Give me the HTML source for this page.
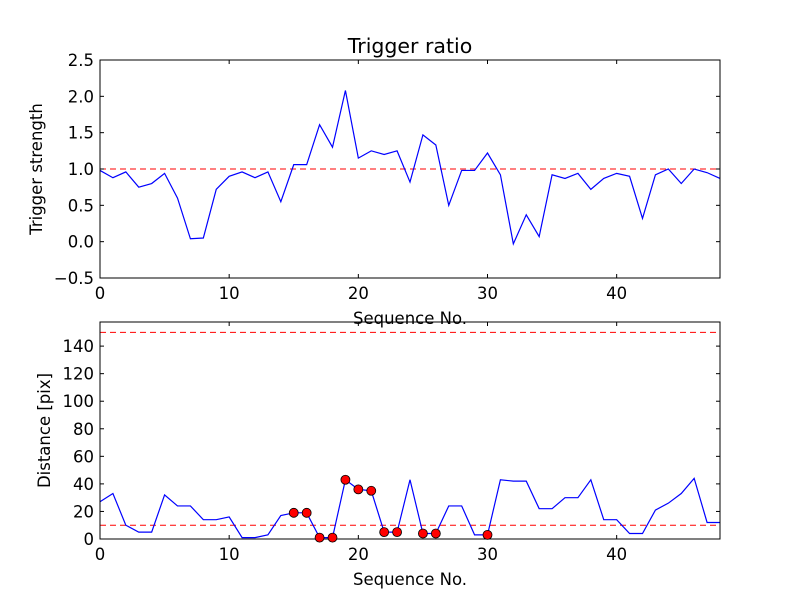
<!DOCTYPE html>
<html><head><meta charset="utf-8"><style>
body{margin:0;background:#fff;}
text{font-family:"DejaVu Sans","Liberation Sans",sans-serif;fill:#000;}
</style></head><body>
<svg id="c" width="800" height="600" xmlns="http://www.w3.org/2000/svg"></svg>
<script>
const seq=[...Array(49).keys()];
const ratio=[0.98,0.88,0.96,0.75,0.80,0.94,0.60,0.04,0.05,0.72,0.90,0.96,0.88,0.96,0.55,1.06,1.06,1.61,1.30,2.08,1.15,1.25,1.20,1.25,0.82,1.47,1.33,0.50,0.98,0.98,1.22,0.92,-0.03,0.37,0.07,0.92,0.87,0.94,0.72,0.87,0.94,0.90,0.32,0.92,1.00,0.80,1.00,0.95,0.87];
const dist=[27,33,10,5,5,32,24,24,14,14,16,1,1,3,17,19,19,1,1,43,36,35,5,5,43,4,4,24,24,3,3,43,42,42,22,22,30,30,43,14,14,4,4,21,26,33,44,12,12];
const flagged=[15,16,17,18,19,20,21,22,23,25,26,30];
const xTicks=[0,10,20,30,40];
const topTicks=[-0.5,0.0,0.5,1.0,1.5,2.0,2.5];
const botTicks=[0,20,40,60,80,100,120,140];
const svg=document.getElementById('c');
const NS='http://www.w3.org/2000/svg';
function el(t,a,p){const e=document.createElementNS(NS,t);for(const k in a)e.setAttribute(k,a[k]);(p||svg).appendChild(e);return e;}
const L=100,R=720;
const xs=v=>L+(v-0)/48*(R-L);
function panel(T,B,y0,y1,ticks,fmt,data,thr,ylabel,name,yoff){
  const ys=v=>B-(v-y0)/(y1-y0)*(B-T);
  const g=el('g',{});
  
  
  thr.forEach(t=>{const l=el('line',{x1:L,x2:R,y1:ys(t),y2:ys(t),stroke:'#f00','stroke-width':1,'stroke-dasharray':'6,4'},g);
    });
  const p=el('polyline',{points:data.map((v,i)=>xs(seq[i])+','+ys(v)).join(' '),fill:'none',stroke:'#00f','stroke-width':1.2},g);
  
  const fr=el('rect',{x:L,y:T,width:R-L,height:B-T,fill:'none',stroke:'#000','stroke-width':1},g);
  
  xTicks.forEach(t=>{const x=xs(t);
    el('line',{x1:x,x2:x,y1:B,y2:B-4,stroke:'#000'},g);el('line',{x1:x,x2:x,y1:T,y2:T+4,stroke:'#000'},g);
    const tx=el('text',{x:x,y:B+21,'text-anchor':'middle','font-size':16.5},g);tx.textContent=t;
    });
  ticks.forEach(t=>{const y=ys(t);
    el('line',{x1:L,x2:L+4,y1:y,y2:y,stroke:'#000'},g);el('line',{x1:R,x2:R-4,y1:y,y2:y,stroke:'#000'},g);
    const tx=el('text',{x:L-6,y:y+6,'text-anchor':'end','font-size':16.5},g);tx.textContent=fmt(t);
    });
  const xl=el('text',{x:(L+R)/2,y:B+46,'text-anchor':'middle','font-size':16.5},g);xl.textContent='Sequence No.';
  
  const yl=el('text',{x:0,y:0,'text-anchor':'middle','font-size':16.5,transform:`translate(${L-yoff},${(T+B)/2}) rotate(-90)`},g);yl.textContent=ylabel;
  
  return ys;
}
panel(60,278,-0.5,2.5,topTicks,t=>(t<0?'\u22120.5':t.toFixed(1)),ratio,[1.0],'Trigger strength','trigger-panel',58);
const ys2=panel(322,539,0,157.5,botTicks,t=>t,dist,[10,150],'Distance [pix]','distance-panel',50);
flagged.forEach(i=>{const c=el('circle',{cx:xs(seq[i]),cy:ys2(dist[i]),r:4.5,fill:'#f00',stroke:'#000','stroke-width':0.8});
  });
const ti=el('text',{x:410,y:53,'text-anchor':'middle','font-size':20.5});ti.textContent='Trigger ratio';

</script>
</body></html>
